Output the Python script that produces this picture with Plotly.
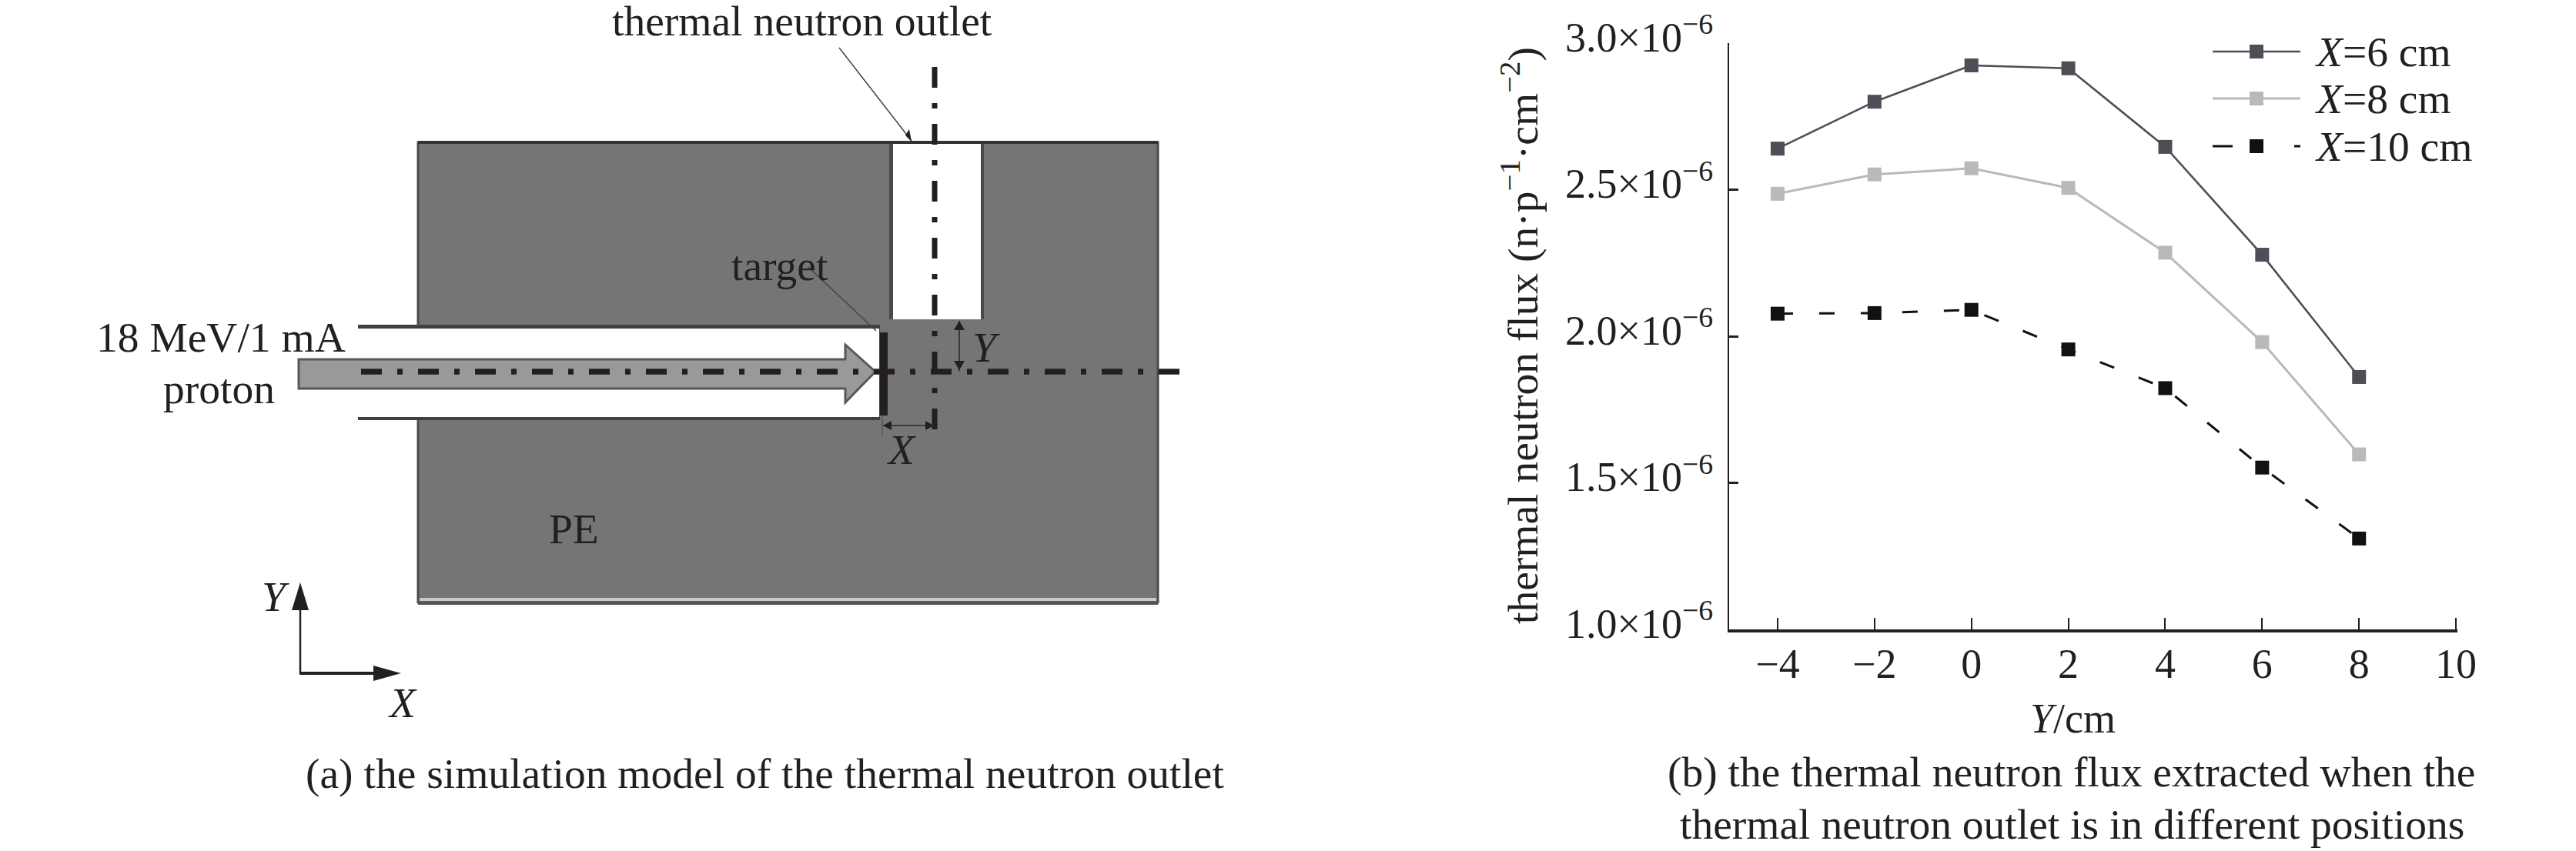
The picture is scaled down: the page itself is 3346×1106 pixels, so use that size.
import plotly.graph_objects as go

# ---------- chart data ----------
y_positions = [-4, -2, 0, 2, 4, 6, 8]
flux_x6 = [2.64e-6, 2.80e-6, 2.924e-6, 2.914e-6, 2.646e-6, 2.278e-6, 1.861e-6]
flux_x8 = [2.486e-6, 2.552e-6, 2.573e-6, 2.506e-6, 2.285e-6, 1.98e-6, 1.597e-6]
flux_x10 = [2.077e-6, 2.079e-6, 2.09e-6, 1.955e-6, 1.823e-6, 1.552e-6, 1.31e-6]
series_names = ["<i>X</i>=6 cm", "<i>X</i>=8 cm", "<i>X</i>=10 cm"]
x_tick_values = [-4, -2, 0, 2, 4, 6, 8, 10]
x_tick_labels = ["−4", "−2", "0", "2", "4", "6", "8", "10"]
y_tick_values = [1.0e-6, 1.5e-6, 2.0e-6, 2.5e-6, 3.0e-6]
y_tick_labels = [f"{v}×10<sup>−6</sup>" for v in ["1.0", "1.5", "2.0", "2.5", "3.0"]]

W, H = 3346, 1106
FONT = "Liberation Serif"
INK = "#231f20"
FS = 54
TS = 55.5
PLOT_L, PLOT_R, PLOT_T, PLOT_B = 2246, 3192, 56, 818
COLORS = ["#4d4e56", "#b9b9b9", "#111111"]
DASHES = ["solid", "solid", "20px,34px"]
WIDTHS = [2.6, 3, 3]

fig = go.Figure()

# ---------- panel (b): line chart ----------
for vals, name, col, dash, lw in zip([flux_x6, flux_x8, flux_x10], series_names, COLORS, DASHES, WIDTHS):
    fig.add_trace(go.Scatter(x=y_positions, y=vals, mode="lines+markers", name=name, showlegend=False,
                             line=dict(color=col, width=lw, dash=dash),
                             marker=dict(symbol="square", size=18, color=col, line=dict(width=0))))

# ---------- legend drawn on the full-canvas overlay axes ----------
legend_rows = [67, 128, 190]
annotations = []
def label(x, y, text, size=TS, anchor="center", color=INK, **extra):
    annotations.append(dict(x=x, y=y, xref="x2", yref="y2", text=text, showarrow=False, xanchor=anchor,
                            yanchor="middle", borderpad=0, font=dict(family=FONT, size=size, color=color), **extra))

legend_dashes = ["solid", "solid", "26px,80px"]
for row, name, col, dash, lw in zip(legend_rows, series_names, COLORS, legend_dashes, WIDTHS):
    fig.add_trace(go.Scatter(x=[2874, 2931, 2988], y=[row] * 3, xaxis="x2", yaxis="y2", mode="lines+markers",
                             showlegend=False, hoverinfo="skip",
                             line=dict(color=col, width=lw, dash=dash),
                             marker=dict(symbol="square", size=[0, 18, 0], color=col, opacity=1, line=dict(width=0))))
    label(3006, row, name, anchor="left")

# ---------- panel (a): schematic, canvas-pixel geometry ----------
shapes = []
def rect(x0, y0, x1, y1, fill, line=None, lw=0):
    shapes.append(dict(type="rect", xref="x2", yref="y2", x0=x0, y0=y0, x1=x1, y1=y1, fillcolor=fill,
                       line=dict(color=line or fill, width=lw), layer="above"))
def seg(x0, y0, x1, y1, color=INK, lw=2, dash="solid"):
    shapes.append(dict(type="line", xref="x2", yref="y2", x0=x0, y0=y0, x1=x1, y1=y1,
                       line=dict(color=color, width=lw, dash=dash), layer="above"))
def poly(points, fill, line=None, lw=0):
    path = "M " + " L ".join(f"{a},{b}" for a, b in points) + " Z"
    shapes.append(dict(type="path", xref="x2", yref="y2", path=path, fillcolor=fill,
                       line=dict(color=line or fill, width=lw), layer="above"))

BLOCK = "#757576"
EDGE = "#4a4a4b"
# PE block
rect(543, 185, 1504, 783, BLOCK, EDGE, 3)
seg(543, 185, 1504, 185, "#333334", 4)
rect(545, 777, 1502, 781, "#c9c9c9")
seg(543, 784, 1504, 784, "#555556", 4)
# outlet channel
rect(1155, 187, 1278, 415, EDGE)
rect(1160, 187, 1274, 415, "#ffffff")
# beam pipe
rect(465, 422, 1143, 546, "#404041")
rect(465, 427, 1142, 542, "#ffffff")
# target
rect(1143, 432, 1153, 540, INK)
# proton arrow
poly([(388, 467), (1098, 467), (1098, 448), (1137, 483), (1098, 523), (1098, 505), (388, 505)], "#999999", "#58585a", 3)
# centre lines
seg(469, 483, 1535, 483, INK, 7.5, "27px,20px,7px,20px")
seg(1214, 87, 1214, 558, INK, 7, "27px,20px,7px,20px")
# leaders
seg(1090, 62, 1184, 183, "#444445", 1.5)
poly([(1184, 184), (1176, 176), (1181, 168)], INK)
seg(1050, 347, 1138, 430, "#444445", 1.5)
# Y and X dimensions
seg(1246, 417, 1246, 482, "#3a3a3b", 2)
poly([(1246, 417), (1239, 429), (1253, 429)], INK)
poly([(1246, 481), (1239, 469), (1253, 469)], INK)
seg(1147, 553, 1213, 553, "#3a3a3b", 2)
poly([(1147, 553), (1158, 547), (1158, 559)], INK)
poly([(1213, 553), (1202, 547), (1202, 559)], INK)
seg(1146, 540, 1146, 568, "#5a5a5b", 1.5)
# coordinate arrows
seg(390, 875, 390, 790, INK, 2.5)
poly([(390, 757), (379, 793), (401, 793)], INK)
seg(389, 875, 487, 875, INK, 4)
poly([(521, 875), (485, 865), (485, 885)], INK)

# ---------- text ----------
label(1042, 27, "thermal neutron outlet", height=52)
label(287, 438, "18 MeV/1 mA")
label(284, 505, "proton")
label(1013, 345, "target")
label(1281, 451, "<i>Y</i>")
label(1171, 584, "<i>X</i>")
label(745, 687, "PE")
label(358, 775, "<i>Y</i>")
label(523, 913, "<i>X</i>")
label(994, 1005, "(a) the simulation model of the thermal neutron outlet")
label(2690, 1003, "(b) the thermal neutron flux extracted when the")
label(2691, 1071, "thermal neutron outlet is in different positions")
label(2692, 934, "<i>Y</i>/cm", size=FS)
annotations.append(dict(x=1974, y=436, xref="x2", yref="y2", showarrow=False, textangle=-90, borderpad=0,
                        text="thermal neutron flux (n·p<sup>−1</sup>·cm<sup>−2</sup>)",
                        font=dict(family=FONT, size=TS, color=INK)))

fig.update_layout(
    width=W, height=H, margin=dict(l=0, r=0, t=0, b=0), autosize=False,
    paper_bgcolor="white", plot_bgcolor="rgba(0,0,0,0)", showlegend=False,
    font=dict(family=FONT, size=FS, color=INK),
    shapes=shapes, annotations=annotations,
    xaxis=dict(domain=[PLOT_L / W, PLOT_R / W], range=[-5, 10.03], anchor="y", showgrid=False, zeroline=False,
               automargin=False,
               showline=True, linecolor=INK, linewidth=4, ticks="inside", ticklen=15, tickwidth=2, tickcolor=INK,
               tickmode="array", tickvals=x_tick_values, ticktext=x_tick_labels, ticklabelstandoff=-6,
               tickfont=dict(family=FONT, size=FS, color=INK)),
    yaxis=dict(domain=[1 - PLOT_B / H, 1 - PLOT_T / H], range=[1e-6, 3e-6], anchor="x", showgrid=False, zeroline=False,
               automargin=False,
               showline=True, linecolor=INK, linewidth=2, ticks="inside", ticklen=12, tickwidth=3, tickcolor=INK,
               tickmode="array", tickvals=y_tick_values, ticktext=y_tick_labels, ticklabelstandoff=8, ticklabelshift=-8,
               tickfont=dict(family=FONT, size=FS, color=INK)),
    xaxis2=dict(domain=[0, 1], range=[0, W], anchor="y2", visible=False, fixedrange=True, automargin=False),
    yaxis2=dict(domain=[0, 1], range=[H, 0], anchor="x2", visible=False, fixedrange=True, automargin=False),
)

fig.write_html("out.html", config=dict(displayModeBar=False),
               post_script="document.body.style.margin='0';document.documentElement.style.overflow='hidden';")
